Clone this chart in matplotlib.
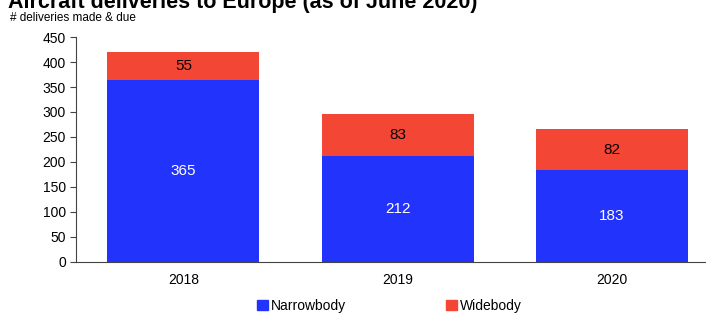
import matplotlib.pyplot as plt
from matplotlib.patches import Patch

# Datos
years = ['2018', '2019', '2020']
narrowbody = [365, 212, 183]
widebody = [55, 83, 82]

BLUE = '#2233fb'
RED = '#f34635'

plt.rcParams['font.family'] = ['Liberation Sans', 'DejaVu Sans']

fig = plt.figure(figsize=(7.06, 3.14), dpi=100)
ax = fig.add_axes([0.108, 0.166, 0.892, 0.716])

x = range(len(years))
ax.bar(x, narrowbody, width=0.71, color=BLUE)
ax.bar(x, widebody, width=0.71, bottom=narrowbody, color=RED)

for i in x:
    ax.text(i, narrowbody[i] / 2, str(narrowbody[i]), ha='center', va='center',
            color='white', fontsize=11)
    ax.text(i, narrowbody[i] + widebody[i] / 2, str(widebody[i]), ha='center',
            va='center', color='black', fontsize=11)

ax.set_xlim(-0.5, 2.44)
ax.set_ylim(0, 450)
ax.set_yticks(range(0, 451, 50))
ax.set_xticks(list(x))
ax.set_xticklabels(years)
ax.tick_params(axis='x', length=0, labelsize=10, pad=8)
ax.tick_params(axis='y', length=4, labelsize=10, direction='out', color='#444444')
for s in ['top', 'right']:
    ax.spines[s].set_visible(False)
ax.spines['left'].set_color('#444444')
ax.spines['bottom'].set_color('#444444')

fig.text(0.012, 1 - 8 / 314, 'Aircraft deliveries to Europe (as of June 2020)',
         fontsize=15.5, fontweight='bold', va='baseline')
fig.text(0.014, 1 - 18 / 314, '# deliveries made & due', fontsize=8.5, va='center')

handles = [Patch(color=BLUE, label='Narrowbody'), Patch(color=RED, label='Widebody')]
fig.legend(handles=handles, loc='center', bbox_to_anchor=(0.552, 1 - 306 / 314),
           ncol=2, frameon=False, fontsize=10, handlelength=0.8, handleheight=0.8,
           handletextpad=0.2, columnspacing=7.2)

fig.savefig('out.png', dpi=100)
